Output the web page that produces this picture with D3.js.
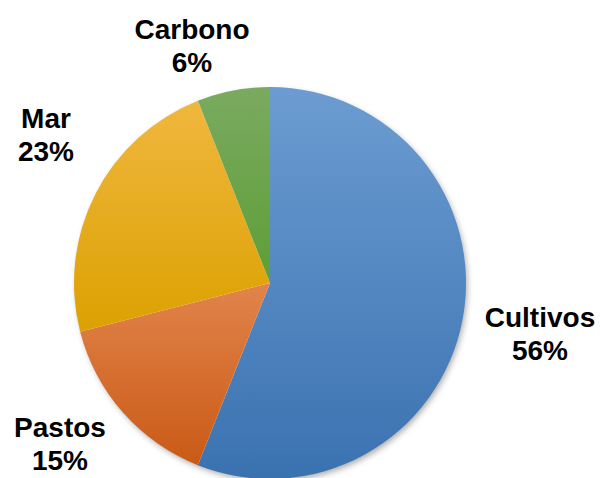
<!DOCTYPE html>
<html>
<head>
<meta charset="utf-8">
<script src="https://cdn.jsdelivr.net/npm/d3@7"></script>
<style>
  body { margin: 0; background: #fff; }
  .lbl { font-family: "Liberation Sans", Arial, sans-serif; font-weight: bold; font-size: 28px; fill: #000; }
</style>
</head>
<body>
<div id="chart"></div>
<script>
// data (clockwise from 12 o'clock)
const categories = ['Cultivos', 'Pastos', 'Mar', 'Carbono'];
const shares = [56, 15, 23, 6];

// look
const gradTop = { Cultivos: '#6c9cd1', Pastos: '#e2844b', Mar: '#f0b73f', Carbono: '#7aaa60' };
const gradBot = { Cultivos: '#3a72b0', Pastos: '#c95a16', Mar: '#dca100', Carbono: '#5e9e36' };
const labelPos = {
  Carbono: [192, 39],
  Mar: [46, 128],
  Cultivos: [540, 327],
  Pastos: [60, 437]
};

const width = 600, height = 478;
const cx = 270, cy = 283, radius = 196;

const svg = d3.select('#chart').append('svg')
  .attr('width', width)
  .attr('height', height);

const defs = svg.append('defs');
categories.forEach((c, i) => {
  const g = defs.append('linearGradient')
    .attr('id', 'grad' + i)
    .attr('x1', 0).attr('y1', 0).attr('x2', 0).attr('y2', 1);
  g.append('stop').attr('offset', '0%').attr('stop-color', gradTop[c]);
  g.append('stop').attr('offset', '100%').attr('stop-color', gradBot[c]);
});
const shadow = defs.append('filter').attr('id', 'shadow')
  .attr('x', '-10%').attr('y', '-10%').attr('width', '120%').attr('height', '120%');
shadow.append('feDropShadow')
  .attr('dx', 2).attr('dy', 3).attr('stdDeviation', 3)
  .attr('flood-color', '#000').attr('flood-opacity', 0.35);

const data = categories.map((c, i) => ({ name: c, value: shares[i], idx: i }));

const pie = d3.pie().value(d => d.value).sort(null);
const arc = d3.arc().innerRadius(0).outerRadius(radius);

const g = svg.append('g')
  .attr('transform', `translate(${cx},${cy})`);

g.append('circle')
  .attr('r', radius - 1)
  .attr('fill', '#fff')
  .attr('filter', 'url(#shadow)');

g.selectAll('path')
  .data(pie(data))
  .join('path')
  .attr('d', arc)
  .attr('fill', d => `url(#grad${d.data.idx})`);

// labels
const lab = svg.append('g');
data.forEach(d => {
  const [x, y] = labelPos[d.name];
  const t = lab.append('text')
    .attr('class', 'lbl')
    .attr('text-anchor', 'middle')
    .attr('x', x)
    .attr('y', y);
  t.append('tspan').attr('x', x).text(d.name);
  t.append('tspan').attr('x', x).attr('dy', 33).text(d.value + '%');
});
</script>
</body>
</html>
